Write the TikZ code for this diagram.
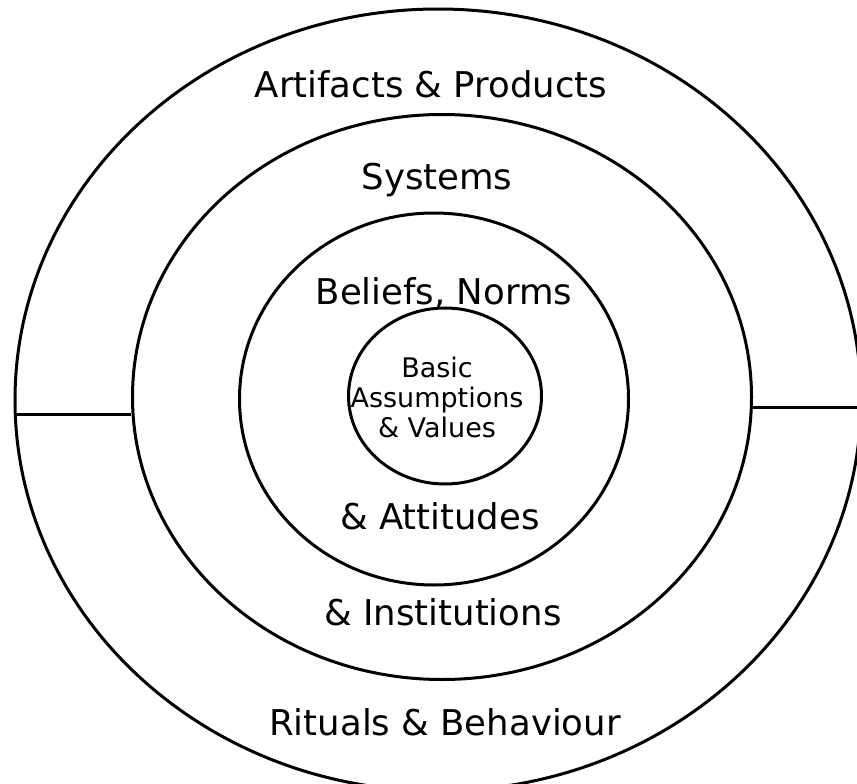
\documentclass[tikz,border=0pt]{standalone}
\usepackage{fontspec}
\setmainfont{DejaVu Sans}
\usetikzlibrary{shapes.geometric}

\begin{document}
\begin{tikzpicture}[x=1pt, y=-1pt,
  ring/.style={draw, ellipse, line width=3pt, inner sep=0pt},
  layer/.style={anchor=base, font=\fontsize{35.5}{40}\selectfont},
  core/.style={align=center, font=\fontsize{27}{30}\selectfont}]

  % Fix the page size
  \useasboundingbox (0,0) rectangle (857,784);

  % Nested layers, outside in
  \node[ring, minimum width=846pt, minimum height=782pt] (artifacts) at (438,400) {};
  \node[ring, minimum width=619pt, minimum height=565pt] (systems) at (442,397) {};
  \node[ring, minimum width=389pt, minimum height=372pt] (beliefs) at (434,399) {};
  \node[ring, minimum width=193pt, minimum height=176pt] (basic) at (445,396) {};

  % Side bars between the two outer layers
  \draw[line width=3pt] (artifacts.182) -- (artifacts.182 -| systems.west);
  \draw[line width=3pt] (systems.358) -- (systems.358 -| artifacts.east);

  % Layer names
  \node[layer] (artTop) at (431,97) {Artifacts \& Products};
  \node[layer] (sysTop) at (437,189) {Systems};
  \node[layer] (belTop) at (444,304) {Beliefs, Norms};
  \node[core] (coreText) at (437,397) {Basic\\Assumptions\\\& Values};
  \node[layer] (belBot) at (440,529) {\& Attitudes};
  \node[layer] (sysBot) at (443,625) {\& Institutions};
  \node[layer] (artBot) at (445,735) {Rituals \& Behaviour};
\end{tikzpicture}
\end{document}
